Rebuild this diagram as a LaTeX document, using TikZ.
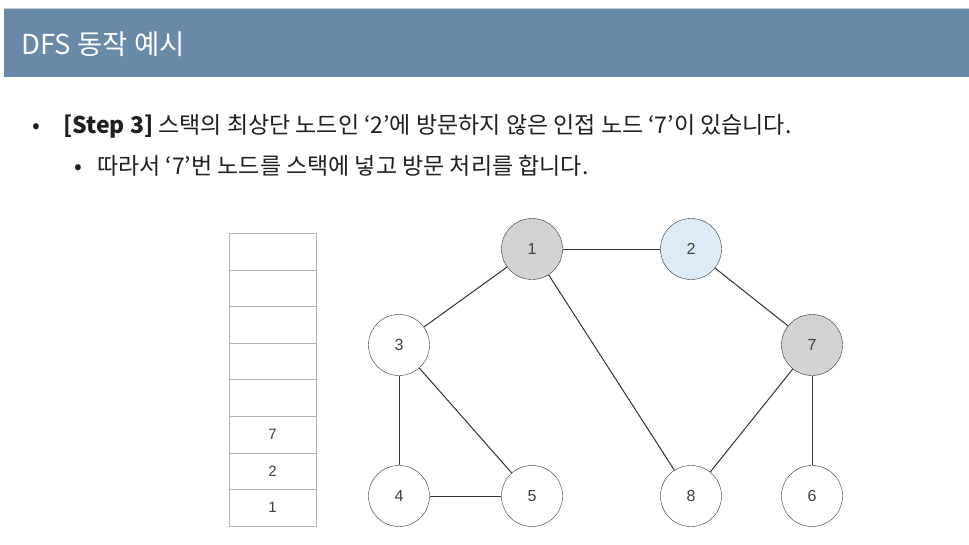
\documentclass[tikz,border=0pt]{standalone}
\usepackage{fontspec}
\setmainfont{Noto Sans CJK KR}
\newfontfamily\numfont{Liberation Sans}
\usetikzlibrary{positioning}

\definecolor{bandblue}{HTML}{6889A8}
\definecolor{visitgray}{HTML}{D2D2D2}
\definecolor{curblue}{HTML}{DCEBF6}
\definecolor{edgegray}{HTML}{333333}

\begin{document}
\begin{tikzpicture}[x=1pt, y=-1pt,
  vtx/.style={draw=edgegray, circle, minimum size=61pt, inner sep=0pt,
              font=\numfont\fontsize{16}{16}\selectfont, text=black!75},
  cell/.style={draw=gray!60, minimum width=87pt, minimum height=36.6pt,
               inner sep=0pt, font=\numfont\fontsize{15}{15}\selectfont,
               text=black!75},
  edge/.style={edgegray, line width=1pt},
  txt/.style={anchor=base west, inner sep=0pt,
              font=\fontsize{23}{27}\selectfont, text=black!88},
]
  \useasboundingbox (0,0) rectangle (969,544);

  % Title band
  \fill[bandblue] (4,8) rectangle (969,77);
  \draw[gray!40] (4,8) -- (969,8);
  \node[anchor=west, inner sep=0pt, text=white,
        font=\fontsize{27.5}{30}\selectfont] (title) at (21,44) {DFS 동작 예시};

  % Bullets
  \node[txt] (bul1) at (32,133) {•};
  \node[txt] (line1) at (63,133) {\textbf{[Step 3]} 스택의 최상단 노드인 ‘2’에 방문하지 않은 인접 노드 ‘7’이 있습니다.};
  \node[txt] (bul2) at (74,174) {•};
  \node[txt] (line2) at (97,174) {따라서 ‘7’번 노드를 스택에 넣고 방문 처리를 합니다.};

  % Stack
  \foreach \i/\v in {1/1,2/2,3/7,4/,5/,6/,7/,8/}
    \node[cell] (cell\i) at (272.5,{526-18.3-(\i-1)*36.6}) {\v};

  % Graph
  \node[vtx, fill=visitgray] (n1) at (532,249) {1};
  \node[vtx, fill=curblue]   (n2) at (691,249) {2};
  \node[vtx] (n3) at (399,345) {3};
  \node[vtx, fill=visitgray] (n7) at (812,345) {7};
  \node[vtx] (n4) at (399,496) {4};
  \node[vtx] (n5) at (532,496) {5};
  \node[vtx] (n8) at (691,496) {8};
  \node[vtx] (n6) at (812,496) {6};

  \draw[edge] (n1) -- (n2);
  \draw[edge] (n1) -- (n3);
  \draw[edge] (n1) -- (n8);
  \draw[edge] (n2) -- (n7);
  \draw[edge] (n3) -- (n4);
  \draw[edge] (n3) -- (n5);
  \draw[edge] (n4) -- (n5);
  \draw[edge] (n7) -- (n8);
  \draw[edge] (n7) -- (n6);
\end{tikzpicture}
\end{document}
